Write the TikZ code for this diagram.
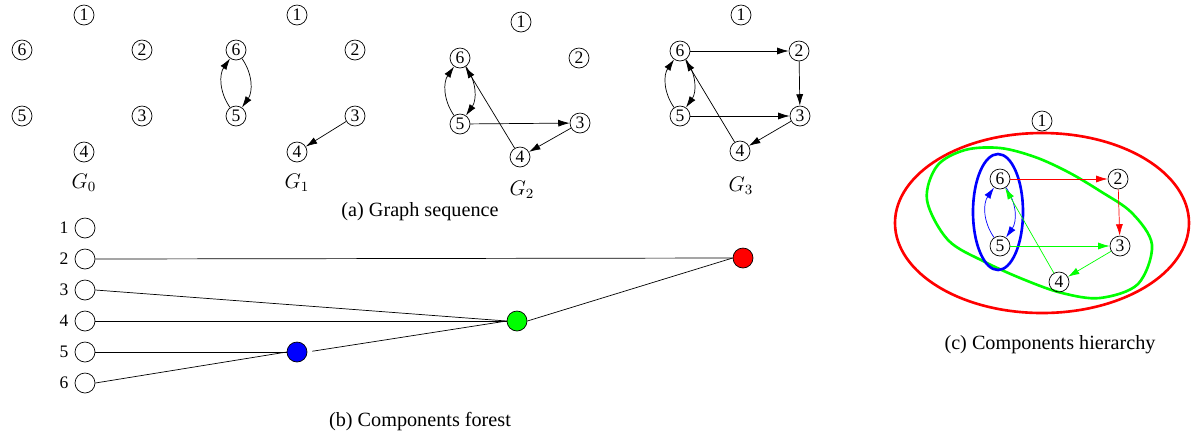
\documentclass[tikz,border=0pt]{standalone}
\usepackage{fontspec}
\setmainfont{Liberation Serif}
\usetikzlibrary{arrows.meta}

\begin{document}
\begin{tikzpicture}[x=0.02cm,y=0.02cm,>={Latex[length=6.5pt,width=4pt]},
  vtx/.style={draw,circle,minimum size=0.4cm,inner sep=0pt,font=\fontsize{10}{10}\selectfont},
  leaf/.style={draw,circle,minimum size=0.4cm,inner sep=0pt,label distance=1pt},
  comp/.style={draw,circle,minimum size=0.4cm,inner sep=0pt},
  captxt/.style={font=\fontsize{11.5}{13}\selectfont},
  ring/.style={line width=1.5pt}]
\useasboundingbox (0,0) rectangle (1194,-441);

% (a) graph sequence
\node[vtx] (a1) at (84,-15) {1};
\node[vtx] (a6) at (22,-50) {6};
\node[vtx] (a2) at (142,-50) {2};
\node[vtx] (a5) at (22,-116) {5};
\node[vtx] (a3) at (142,-116) {3};
\node[vtx] (a4) at (84,-152) {4};
\node[captxt] (ga) at (84,-183) {$G_0$};

\node[vtx] (b1) at (297,-15) {1};
\node[vtx] (b6) at (236,-50) {6};
\node[vtx] (b2) at (355,-50) {2};
\node[vtx] (b5) at (236,-116) {5};
\node[vtx] (b3) at (355,-116) {3};
\node[vtx] (b4) at (297,-152) {4};
\node[captxt] (gb) at (297,-183) {$G_1$};
\draw[->] (b5) to[bend left=35] (b6);
\draw[->] (b6) to[bend left=35] (b5);
\draw[->] (b3) -- (b4);

\node[vtx] (c1) at (521,-22) {1};
\node[vtx] (c6) at (460,-58) {6};
\node[vtx] (c2) at (579,-58) {2};
\node[vtx] (c5) at (460,-124) {5};
\node[vtx] (c3) at (580,-123) {3};
\node[vtx] (c4) at (520,-157) {4};
\node[captxt] (gc) at (522,-190) {$G_2$};
\draw[->] (c5) to[bend left=35] (c6);
\draw[->] (c6) to[bend left=35] (c5);
\draw[->] (c5) -- (c3);
\draw[->] (c3) -- (c4);
\draw[->] (c4) -- (c6);

\node[vtx] (d1) at (741,-15) {1};
\node[vtx] (d6) at (680,-51) {6};
\node[vtx] (d2) at (799,-51) {2};
\node[vtx] (d5) at (680,-116) {5};
\node[vtx] (d3) at (800,-116) {3};
\node[vtx] (d4) at (740,-151) {4};
\node[captxt] (gd) at (741,-186) {$G_3$};
\draw[->] (d5) to[bend left=35] (d6);
\draw[->] (d6) to[bend left=35] (d5);
\draw[->] (d6) -- (d2);
\draw[->] (d2) -- (d3);
\draw[->] (d5) -- (d3);
\draw[->] (d3) -- (d4);
\draw[->] (d4) -- (d6);

\node[captxt] (capa) at (420,-212) {(a) Graph sequence};

% (b) components forest
\node[leaf,label={left:1}] (l1) at (85,-228) {};
\node[leaf,label={left:2}] (l2) at (85,-259) {};
\node[leaf,label={left:3}] (l3) at (85,-290) {};
\node[leaf,label={left:4}] (l4) at (85,-321) {};
\node[leaf,label={left:5}] (l5) at (85,-352) {};
\node[leaf,label={left:6}] (l6) at (85,-383) {};
\node[comp,fill=blue] (cb) at (297,-352) {};
\node[comp,fill=green] (cg) at (517,-321) {};
\node[comp,fill=red] (cr) at (743,-258) {};
\draw (l2.east) -- (cr.west);
\draw (l3.east) -- (cg.west);
\draw (l4.east) -- (cg.west);
\draw (l5.east) -- (cb.west);
\draw (l6.east) -- (cb.west);
\draw[shorten <=0.1cm] (cb.east) -- (cg.west);
\draw (cg.east) -- (cr.west);

\node[captxt] (capb) at (420,-422) {(b) Components forest};

% (c) components hierarchy
\draw[red,ring] (1042,-223) ellipse [x radius=147, y radius=90];
\draw[green,ring] plot[smooth cycle,tension=0.55] coordinates {(927,-200) (937,-166) (965,-150) (1000,-148) (1035,-157) (1068,-172) (1100,-191) (1132,-213) (1152,-245) (1138,-284) (1100,-298) (1062,-293) (1025,-280) (985,-262) (948,-240)};
\draw[blue,ring] (998,-212) ellipse [x radius=25, y radius=58];
\node[vtx] (h1) at (1042,-121) {1};
\node[vtx] (h6) at (1000,-179) {6};
\node[vtx] (h2) at (1118,-179) {2};
\node[vtx] (h5) at (1000,-246) {5};
\node[vtx] (h3) at (1120,-246) {3};
\node[vtx] (h4) at (1059,-282) {4};
\draw[->,red] (h6) -- (h2);
\draw[->,red] (h2) -- (h3);
\draw[->,blue] (h5) to[bend left=35] (h6);
\draw[->,blue] (h6) to[bend left=35] (h5);
\draw[->,green] (h5) -- (h3);
\draw[->,green] (h3) -- (h4);
\draw[->,green] (h4) -- (h6);

\node[captxt] (capc) at (1050,-345) {(c) Components hierarchy};
\end{tikzpicture}
\end{document}
